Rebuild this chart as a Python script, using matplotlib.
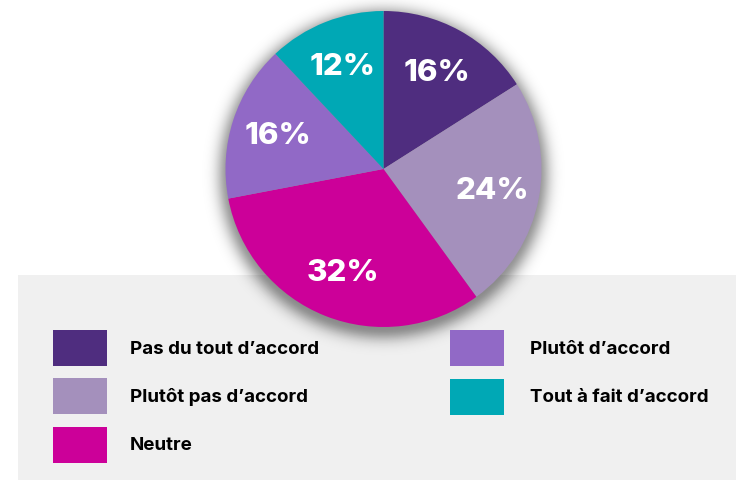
import numpy as np
import matplotlib.pyplot as plt
from matplotlib.patches import Rectangle

# Répartition des réponses (en %)
categories = ["Pas du tout d’accord", "Plutôt pas d’accord", "Neutre",
              "Plutôt d’accord", "Tout à fait d’accord"]
valeurs = [16, 24, 32, 16, 12]
couleurs = ["#4f2d7f", "#a490bc", "#cc0099", "#9169c6", "#00a8b5"]

W, H = 736, 481
fig = plt.figure(figsize=(W / 100, H / 100), dpi=100)
ax = fig.add_axes([0, 0, 1, 1])
ax.set_xlim(0, W)
ax.set_ylim(0, H)
ax.set_aspect("equal")
ax.axis("off")

cx, cy, r = 383.5, H - 170, 158

# fond gris de la légende
ax.add_patch(Rectangle((18, 0), W - 18, H - 276, facecolor="#f0f0f0",
                       edgecolor="none", zorder=0))

# ombre douce sous le camembert
xx, yy = np.meshgrid(np.arange(W) + 0.5, np.arange(H) + 0.5)
d = np.hypot(xx - cx, yy - (cy - 5)) - r + 4
ombre = np.exp(-np.clip(d, 0, None) ** 2 / (2 * 9 ** 2)) * 0.42
rgba = np.zeros((H, W, 4))
rgba[..., 3] = ombre
ax.imshow(rgba, extent=(0, W, 0, H), origin="lower", zorder=1,
          interpolation="bilinear")

font = "Inter"
wedges, textes, autotextes = ax.pie(
    valeurs, colors=couleurs, startangle=90, counterclock=False,
    center=(cx, cy), radius=r, autopct=lambda p: f"{p:.0f}%",
    pctdistance=0.7, wedgeprops=dict(linewidth=0, zorder=2),
    textprops=dict(color="white", fontsize=22.5, fontweight="heavy",
                   family=font))
for t in autotextes:
    t.set_zorder(3)
ax.set_xlim(0, W)
ax.set_ylim(0, H)

# légende manuelle sur deux colonnes
positions = [(53, 331), (53, 379), (53, 428), (450, 331), (450, 380)]
for (x, y), nom, c in zip(positions, categories, couleurs):
    ax.add_patch(Rectangle((x, H - y - 36), 54, 36, facecolor=c,
                           edgecolor="none", zorder=2))
    dx = 77 if x < 200 else 80
    ax.text(x + dx, H - y - 18, nom, fontsize=13.5, fontweight="bold",
            family=font, color="black", va="center", ha="left", zorder=3)

fig.savefig("out.png", dpi=100)
